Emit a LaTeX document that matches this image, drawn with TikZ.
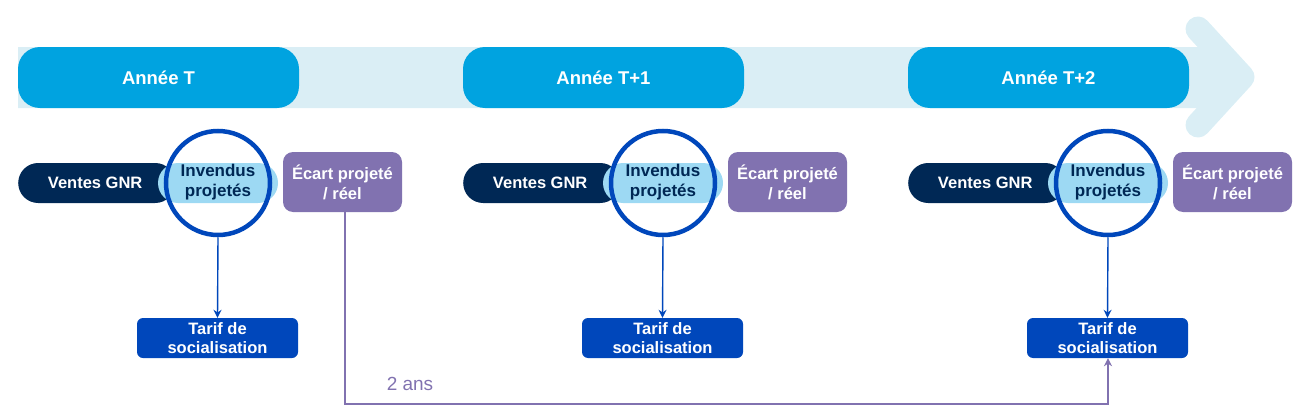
\documentclass[tikz,border=0pt]{standalone}
\usepackage{fontspec}
\setmainfont{Liberation Sans}
\usetikzlibrary{arrows.meta}
\definecolor{band}{HTML}{DAEEF5}
\definecolor{year}{HTML}{00A3E0}
\definecolor{navy}{HTML}{002855}
\definecolor{light}{HTML}{9DD9F3}
\definecolor{royal}{HTML}{0047BB}
\definecolor{purp}{HTML}{8172B0}
\tikzset{
  x=1pt,y=-1pt,
  yearpill/.style={fill=year,rounded corners=22pt,minimum width=281pt,minimum height=61pt,text=white,font=\bfseries\fontsize{18.5}{21}\selectfont,inner sep=0},
  vente/.style={fill=navy,rounded corners=20pt,minimum width=157pt,minimum height=40pt,text=white,font=\bfseries\fontsize{16.5}{19}\selectfont,inner sep=0},
  invpill/.style={fill=light,rounded corners=20pt,minimum width=120pt,minimum height=40pt,inner sep=0},
  invtxt/.style={text=navy,font=\bfseries\fontsize{17}{19.5}\selectfont,align=center},
  ring/.style={draw=royal,line width=4.5pt,circle,minimum size=104pt,inner sep=0},
  ecart/.style={fill=purp,rounded corners=10pt,minimum width=119pt,minimum height=60pt,text=white,font=\bfseries\fontsize{16.5}{20}\selectfont,align=center,inner sep=0},
  tarif/.style={fill=royal,rounded corners=6pt,minimum width=161pt,minimum height=40pt,text=white,font=\bfseries\fontsize{16.5}{18.5}\selectfont,align=center,inner sep=0},
  darr/.style={royal,line width=1.4pt,-{Stealth[length=8pt,width=8pt]}},
}
\begin{document}
\begin{tikzpicture}
\useasboundingbox (0,0) rectangle (1294,415);
\fill[band] (18,47) -- (1210,47) -- (1235,77) -- (1210,108) -- (18,108) -- cycle;
\draw[band,line width=25pt,line cap=round,line join=round] (1198,29) -- (1242,77) -- (1198,125);
\node[yearpill] (y0) at (158.5,77.5) {Année T};
\node[yearpill] (y1) at (603.5,77.5) {Année T+1};
\node[yearpill] (y2) at (1048.5,77.5) {Année T+2};
\foreach \i/\o in {0/0,1/445,2/890}{
  \node[vente,anchor=west] (v\i) at (18+\o,183) {\hspace*{-3pt}Ventes GNR};
  \node[invpill] (p\i) at (218+\o,183) {};
  \node[invtxt] (t\i) at (218+\o,182) {Invendus\\projetés};
  \node[ring] (c\i) at (218+\o,183) {};
  \node[ecart] (e\i) at (342.5+\o,182) {Écart projeté\\/ réel};
  \node[tarif] (r\i) at (217.5+\o,338) {Tarif de\\socialisation};
  \draw[darr] (c\i.south) -- (r\i.north);
}
\coordinate (k1) at (345,404);
\coordinate (k2) at (1108,404);
\draw[purp,line width=1.4pt,-{Stealth[length=8pt,width=8pt]}] (e0.south -| k1) -- (k1) -- (k2) -- (r2.south -| k2);
\node[purp,font=\fontsize{19}{21}\selectfont] (ans) at (410,384) {2 ans};
\end{tikzpicture}
\end{document}
